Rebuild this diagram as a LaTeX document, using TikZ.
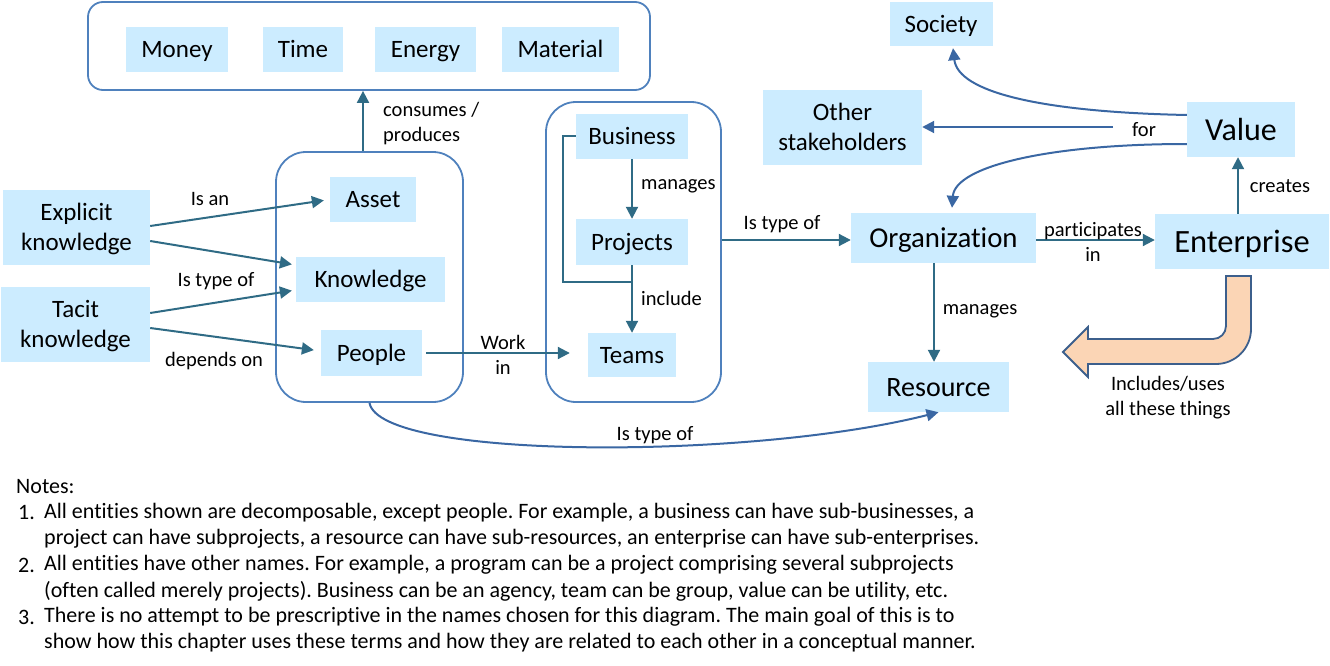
\documentclass[tikz,border=0pt]{standalone}
\usepackage{fontspec}
\setmainfont{Carlito}[Ligatures=NoCommon]
\usetikzlibrary{arrows.meta,calc}
\definecolor{entfill}{HTML}{CCECFF}
\definecolor{grpline}{HTML}{4F81BD}
\definecolor{arrteal}{HTML}{2F6B85}
\definecolor{arrblue}{HTML}{3A67A3}
\definecolor{orfill}{HTML}{FBD5B5}
\definecolor{orline}{HTML}{3C5F8C}
\newcommand{\mytwoline}[2]{\raisebox{0pt}[\dimexpr30pt+0.87em\relax][0.2em]{\begin{tabular}[b]{@{}c@{}}#1\\#2\end{tabular}}}
\tikzset{
  ent/.style={fill=entfill, inner sep=0pt, text height=21.75pt, text depth=5pt, font=\fontsize{25}{30}\selectfont},
  ent2/.style={fill=entfill, inner sep=0pt, font=\fontsize{25}{30}\selectfont},
  bigent/.style={fill=entfill, inner sep=0pt, text height=28.3pt, text depth=6.5pt, font=\fontsize{32.5}{36}\selectfont},
  grp/.style={draw=grpline, line width=1.8pt, rounded corners=30pt, inner sep=0pt},
  arr/.style={draw=arrteal, line width=2pt, -{Triangle[length=12pt,width=12pt]}},
  carr/.style={draw=arrblue, line width=2pt, -{Triangle[length=12pt,width=12pt]}},
  plainline/.style={draw=arrteal, line width=2pt},
  lbl/.style={inner sep=0pt, align=center, font=\fontsize{20.5}{25}\selectfont},
  note/.style={inner sep=0pt, anchor=west, font=\fontsize{22}{26}\selectfont}
}
\begin{document}
\begin{tikzpicture}[x=1pt,y=-1pt]
\frenchspacing
\useasboundingbox (0,0) rectangle (1330,666);
% groups
\node[grp, rounded corners=15pt, minimum width=562pt, minimum height=88pt] (topbox) at (369,46) {};
\node[grp, minimum width=187pt, minimum height=250pt] (midbox) at (369.5,277) {};
\node[grp, minimum width=175pt, minimum height=300pt] (rbox) at (633.5,252) {};
% top resources
\node[ent, minimum width=102pt, minimum height=45pt] (money) at (177,49.5) {Money};
\node[ent, minimum width=80pt, minimum height=45pt] (time) at (303,49.5) {Time};
\node[ent, minimum width=101pt, minimum height=45pt] (energy) at (425.5,49.5) {Energy};
\node[ent, minimum width=117pt, minimum height=45pt] (material) at (560.5,49.5) {Material};
% middle group
\node[ent, minimum width=86pt, minimum height=45pt] (asset) at (373,199.5) {Asset};
\node[ent, minimum width=149pt, minimum height=45pt] (know) at (370.5,279.5) {Knowledge};
\node[ent, minimum width=101pt, minimum height=46pt] (people) at (371.5,353) {People};
% left
\node[ent2, minimum width=147pt, minimum height=75pt] (expl) at (76.5,227.5) {\mytwoline{Explicit}{knowledge}};
\node[ent2, minimum width=149pt, minimum height=75pt] (tacit) at (75.5,324.5) {\mytwoline{Tacit}{knowledge}};
% right group
\node[ent, minimum width=112pt, minimum height=45pt] (bus) at (632,136.5) {Business};
\node[ent, minimum width=112pt, minimum height=46pt] (proj) at (632,242) {Projects};
\node[ent, minimum width=88pt, minimum height=44pt] (teams) at (632,355) {Teams};
% right part
\node[ent, font=\fontsize{28.8}{32}\selectfont, text height=25pt, text depth=5.8pt, minimum width=185pt, minimum height=50pt] (org) at (943.5,238) {Organization};
\node[bigent, minimum width=174pt, minimum height=55pt] (ent) at (1242,241.5) {Enterprise};
\node[bigent, font=\fontsize{32}{36}\selectfont, text height=27.8pt, text depth=6.4pt, minimum width=108pt, minimum height=55pt] (value) at (1241,129.5) {Value};
\node[ent, minimum width=103pt, minimum height=44pt] (soc) at (941,24) {Society};
\node[ent2, minimum width=159pt, minimum height=75pt] (other) at (842.5,127.5) {\mytwoline{Other}{stakeholders}};
\node[ent, font=\fontsize{28}{32}\selectfont, text height=24.4pt, text depth=5.6pt, minimum width=141pt, minimum height=50pt] (res) at (938.5,387) {Resource};
% left arrows
\draw[arr, shorten >=6pt] ([yshift=1.5pt]expl.east) -- (asset.west);
\draw[arr, shorten >=4pt] ([yshift=-13.5pt]expl.east) -- ([yshift=14.5pt]know.west);
\draw[arr, shorten >=4pt] ([yshift=11.5pt]tacit.east) -- ([yshift=-10.5pt]know.west);
\draw[arr, shorten >=7pt] ([yshift=-3.5pt]tacit.east) -- ([yshift=2pt]people.west);
\node[lbl] at (210,199) {Is an};
\node[lbl] at (216,281) {Is type of};
\node[lbl] at (214,361) {depends on};
% people -> teams
\draw[arr, shorten <=4pt, shorten >=18pt] (people.east) -- (people.east -| teams.west);
\node[lbl] at (503,355) {Work\\in};
% consumes
\draw[arr] ([xshift=-6.5pt]midbox.north) -- ([xshift=-6.5pt]midbox.north |- topbox.south);
\node[lbl, anchor=west, align=left] at (383,123.5) {consumes /\\produces};
% business/projects/teams
\draw[arr] (bus.south) -- (proj.north);
\node[lbl, anchor=west] at (641,186) {manages};
\draw[arr] (proj.south) -- (teams.north);
\node[lbl, anchor=west] at (641,298) {include};
\coordinate (brk) at (632,282);
\draw[plainline] (bus.west) -| ([xshift=-69pt]brk) -- (brk);
% rbox -> org
\draw[arr] (rbox.east |- 0,240) -- (org.west |- 0,240);
\node[lbl] at (782,224) {Is type of};
% org -> ent
\draw[arr] (org.east |- 0,240) -- (ent.west |- 0,240);
\node[lbl] at (1093,241.5) {participates\\in};
% ent -> value
\draw[arr] ([xshift=-4pt]ent.north) -- ([xshift=-4pt]ent.north |- value.south);
\node[lbl] at (1280,186) {creates};
% value -> other
\coordinate (forstart) at (1113,127);
\draw[carr] (forstart) -- (forstart -| other.east);
\node[lbl] at (1144,130) {for};
% value -> society
\draw[carr] ([yshift=14.5pt]value.west) .. controls (1040,112) and (958,92) .. ([xshift=12pt,yshift=-2pt]soc.south);
% value -> org
\draw[carr] ([yshift=-14.5pt]value.west) .. controls (1050,144) and (955,166) .. ([xshift=8.5pt,yshift=5pt]org.north);
% org -> resource
\draw[arr] ([xshift=-9.5pt]org.south) -- ([xshift=-9.5pt]org.south |- res.north);
\node[lbl] at (980,311) {manages};
% people -> resource
\draw[carr] (midbox.south) .. controls (380,460) and (750,460) .. (res.south);
\node[lbl] at (655,435) {Is type of};
% orange U arrow
\draw[fill=orfill, draw=orline, line width=1.8pt, line join=miter]
  (1226,276) -- (1226,326) .. controls (1226,333.2) and (1220.2,339) .. (1213,339)
  -- (1088,339) -- (1088,327) -- (1063,352) -- (1088,377) -- (1088,364)
  -- (1216,364) .. controls (1235.3,364) and (1251,348.3) .. (1251,329)
  -- (1251,276) -- cycle;
\node[lbl] at (1168,398) {Includes/uses\\all these things};
% notes
\node[note] at (16,487) {Notes:};
\node[note] at (18,513) {1.};
\node[note] at (44,513) {All entities shown are decomposable, except people. For example, a business can have sub-businesses, a};
\node[note] at (44,539) {project can have subprojects, a resource can have sub-resources, an enterprise can have sub-enterprises.};
\node[note] at (18,565) {2.};
\node[note] at (44,565) {All entities have other names. For example, a program can be a project comprising several subprojects};
\node[note] at (44,591) {(often called merely projects). Business can be an agency, team can be group, value can be utility, etc.};
\node[note] at (18,617) {3.};
\node[note] at (44,617) {There is no attempt to be prescriptive in the names chosen for this diagram. The main goal of this is to};
\node[note] at (44,643) {show how this chapter uses these terms and how they are related to each other in a conceptual manner.};
\end{tikzpicture}
\end{document}
